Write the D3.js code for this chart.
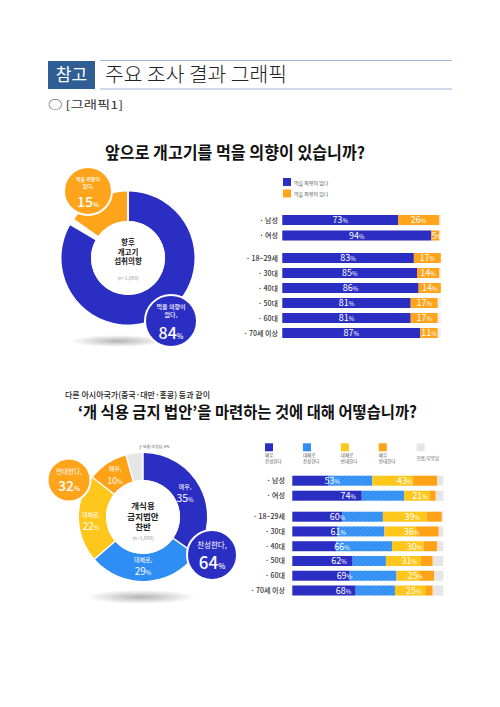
<!DOCTYPE html>
<html><head><meta charset="utf-8">
<script src="https://cdn.jsdelivr.net/npm/d3@7"></script>
<style>
body{margin:0;background:#fff}
svg{display:block}
text{font-family:"Noto Sans CJK KR","Noto Sans",sans-serif}
</style>
</head><body>
<svg id="c" width="500" height="707"></svg>
<script>
// ---------- DATA ----------
const headerTag = "참고";
const headerTitle = "주요 조사 결과 그래픽";
const sectionLabel = "○ [그래픽1]";

const genders = ["남성","여성"];
const ages = ["18~29세","30대","40대","50대","60대","70세 이상"];
const rowCats = genders.concat(ages);

// Chart 1
const c1Title = "앞으로 개고기를 먹을 의향이 있습니까?";
const c1Legend = ["먹을 의향이 없다","먹을 의향이 있다"];
const c1No  = [73,94,83,85,86,81,81,87];
const c1Yes = [26,5,17,14,14,17,17,11];
const c1DonutValues = [84,15];
const c1Center = ["향후","개고기","섭취의향"];
const sampleN = "(n=1,000)";

// Chart 2
const c2Sub = "다른 아시아국가(중국·대만·홍콩) 등과 같이";
const c2Title = "‘개 식용 금지 법안’을 마련하는 것에 대해 어떻습니까?";
const c2Legend = [["매우","찬성한다"],["대체로","찬성한다"],["대체로","반대한다"],["매우","반대한다"],["모름/무응답"]];
const c2VeryFor      = [24,46,33,30,29,40,38,42];
const c2SomeFor      = [29,28,27,31,37,22,31,26];
const c2SomeAgainst  = [27,17,29,21,21,23,15,20];
const c2VeryAgainst  = [16,4,10,15,9,8,10,5];
const c2DontKnow     = [4,5,1,3,4,7,6,7];
const c2ForTotal     = [53,74,60,61,66,62,69,68];
const c2AgainstTotal = [43,21,39,36,30,31,25,25];
const c2DonutValues  = [35,29,22,10,4];
const c2DonutLabels  = ["매우,","대체로,","대체로,","매우,",""];
const c2Center = ["개식용","금지법안","찬반"];

// ---------- STYLE ----------
const BLUE = "#2b2ec2", ORANGE = "#ffa41b";
const C2COL = ["#2b2ec2","#2f8ef3","#ffc71c","#ffa216","#e6e6e6"];

const svg = d3.select("#c");
const defs = svg.append("defs");
const grad = defs.append("radialGradient").attr("id","shadow");
grad.append("stop").attr("offset","0%").attr("stop-color","#777").attr("stop-opacity",0.55);
grad.append("stop").attr("offset","100%").attr("stop-color","#777").attr("stop-opacity",0);
const pat = defs.append("pattern").attr("id","hatch").attr("width",3).attr("height",3)
  .attr("patternUnits","userSpaceOnUse").attr("patternTransform","rotate(45)");
pat.append("rect").attr("width",3).attr("height",3).attr("fill",C2COL[1]);
pat.append("rect").attr("width",1).attr("height",3).attr("fill","#4a9cf5");

// ---------- HEADER ----------
svg.append("rect").attr("x",48).attr("y",61).attr("width",47).attr("height",28).attr("fill","#2f5e95");
svg.append("text").attr("x",71.5).attr("y",81).attr("text-anchor","middle")
  .attr("fill","#fff").attr("font-size",17).text(headerTag);
svg.append("line").attr("x1",100).attr("x2",452).attr("y1",60.5).attr("y2",60.5).attr("stroke","#9fb5d6").attr("stroke-width",1.2);
svg.append("line").attr("x1",100).attr("x2",452).attr("y1",89).attr("y2",89).attr("stroke","#9fb5d6").attr("stroke-width",1.2);
svg.append("text").attr("x",105).attr("y",82).attr("font-size",20).attr("font-weight",300)
  .attr("fill","#222").attr("textLength",182).attr("lengthAdjust","spacingAndGlyphs").text(headerTitle);
svg.append("text").attr("x",48).attr("y",109).attr("font-size",11).attr("fill","#333")
  .attr("textLength",75).attr("lengthAdjust","spacingAndGlyphs").text(sectionLabel);

// ---------- helpers ----------
function pctText(g, x, y, val, big, small, color, anchor, weight){
  const t = g.append("text").attr("x",x).attr("y",y).attr("text-anchor",anchor||"middle")
    .attr("fill",color||"#fff").attr("font-weight",weight||500).attr("font-size",big);
  t.append("tspan").text(val);
  t.append("tspan").attr("font-size",small).text("%");
  return t;
}
function lines(g, x, y, arr, size, lh, color, weight){
  arr.forEach((s,i)=> g.append("text").attr("x",x).attr("y",y+i*lh).attr("text-anchor","middle")
    .attr("font-size",size).attr("fill",color).attr("font-weight",weight||400).text(s));
}

// ---------- CHART 1 ----------
svg.append("text").attr("x",105).attr("y",159).attr("font-size",17).attr("font-weight",700)
  .attr("fill","#111").attr("textLength",260).attr("lengthAdjust","spacingAndGlyphs").text(c1Title);

// donut 1
const g1 = svg.append("g");
g1.append("ellipse").attr("cx",118).attr("cy",341).attr("rx",48).attr("ry",6).attr("fill","url(#shadow)");
const d1 = g1.append("g").attr("transform","translate(128,258)");
const arc1 = d3.arc().innerRadius(37).outerRadius(66.5);
const pie1 = d3.pie().sort(null).value(d=>d).padAngle(0.025);
const pie1Data = pie1([c1DonutValues[0], 100 - c1DonutValues[0] - c1DonutValues[1], c1DonutValues[1]]);
d1.selectAll("path").data(pie1Data).join("path")
  .attr("d",arc1).attr("fill",(d,i)=> i===0?BLUE:(i===2?ORANGE:"none"));
d1.append("circle").attr("r",37).attr("fill","#fff");
lines(d1,0,-13,c1Center,7.5,9.5,"#222",700);
d1.append("text").attr("y",22).attr("text-anchor","middle").attr("font-size",5).attr("fill","#999").text(sampleN);

// bubbles
const b1 = g1.append("g").attr("transform","translate(88,191)");
b1.append("circle").attr("r",24).attr("fill",ORANGE).attr("stroke","#fff").attr("stroke-width",2);
lines(b1,0,-10,["먹을 의향이","있다,"],5,6.5,"#fff",500);
pctText(b1,0,16,c1DonutValues[1],14,6.5,"#fff","middle",500);
const b2 = g1.append("g").attr("transform","translate(171,321)");
b2.append("circle").attr("r",26).attr("fill",BLUE).attr("stroke","#fff").attr("stroke-width",2);
lines(b2,0,-12,["먹을 의향이","없다,"],6,8,"#fff",500);
pctText(b2,0,18,c1DonutValues[0],16,7,"#fff","middle",500);

// legend 1
c1Legend.forEach((s,i)=>{
  svg.append("rect").attr("x",283).attr("y",178+i*11.5).attr("width",8).attr("height",8).attr("fill",i===0?BLUE:ORANGE);
  svg.append("text").attr("x",294).attr("y",184.5+i*11.5).attr("font-size",5).attr("fill","#555").text(s);
});

// bars 1
const x1 = d3.scaleLinear().domain([0,100]).range([282.3,440.8]);
const yG1 = d3.scalePoint().domain(genders).range([220,235.5]);
const yA1 = d3.scalePoint().domain(ages).range([258,333]);
const y1 = c => genders.includes(c) ? yG1(c) : yA1(c);
const bh = 10;
const bars1 = svg.append("g");
rowCats.forEach((c,i)=>{
  const yc = y1(c);
  bars1.append("rect").attr("x",x1(0)).attr("y",yc-bh/2).attr("width",x1(100)-x1(0)).attr("height",bh).attr("fill","#eeeeee");
  bars1.append("rect").attr("x",x1(0)).attr("y",yc-bh/2).attr("width",x1(c1No[i])-x1(0)).attr("height",bh).attr("fill",BLUE);
  bars1.append("rect").attr("x",x1(c1No[i])).attr("y",yc-bh/2).attr("width",x1(c1No[i]+c1Yes[i])-x1(c1No[i])).attr("height",bh).attr("fill",ORANGE);
  pctText(bars1,(x1(0)+x1(c1No[i]))/2,yc+3.3,c1No[i],9,6,"#fff","middle",400);
  if(c1Yes[i] < 8){
    pctText(bars1,x1(c1No[i])+0.5,yc+3.3,c1Yes[i],9,6,"#fff","start",400);
  } else {
    pctText(bars1,(x1(c1No[i])+x1(c1No[i]+c1Yes[i]))/2,yc+3.3,c1Yes[i],9,6,"#fff","middle",400);
  }
  bars1.append("text").attr("x",278).attr("y",yc+2.5).attr("text-anchor","end").attr("font-size",7)
    .attr("fill","#333").attr("font-weight",500).text("· "+c);
});

// ---------- CHART 2 ----------
svg.append("text").attr("x",65).attr("y",398).attr("font-size",8.5).attr("fill","#222").attr("font-weight",500)
  .attr("textLength",145).attr("lengthAdjust","spacingAndGlyphs").text(c2Sub);
svg.append("text").attr("x",78).attr("y",418).attr("font-size",16).attr("font-weight",700)
  .attr("fill","#111").attr("textLength",339).attr("lengthAdjust","spacingAndGlyphs").text(c2Title);

const g2 = svg.append("g");
g2.append("ellipse").attr("cx",141).attr("cy",597).attr("rx",55).attr("ry",7).attr("fill","url(#shadow)");
const d2 = g2.append("g").attr("transform","translate(143,517)");
const arc2 = d3.arc().innerRadius(37).outerRadius(64);
const pie2 = d3.pie().sort(null).value(d=>d).padAngle(0.02);
const pie2Data = pie2(c2DonutValues);
d2.selectAll("path").data(pie2Data).join("path").attr("d",arc2).attr("fill",(d,i)=>C2COL[i]);
d2.append("circle").attr("r",37).attr("fill","#fff");
lines(d2,0,-8,c2Center,8.5,10.5,"#222",700);
d2.append("text").attr("y",23).attr("text-anchor","middle").attr("font-size",5).attr("fill","#999").text(sampleN);

// segment labels
const segPos = [[42,-28],[0,45],[-52,0],[-28,-46]];
pie2Data.slice(0,4).forEach((d,i)=>{
  const [lx,ly] = segPos[i];
  const fs = i===0?10.5:(i===3?9:10);
  d2.append("text").attr("x",lx).attr("y",ly).attr("text-anchor","middle").attr("font-size",6).attr("fill","#fff").text(c2DonutLabels[i]);
  pctText(d2,lx,ly+13,c2DonutValues[i],fs,6,"#fff","middle",400);
});
// dont know label
d2.append("path").attr("d","M-3,-67 L-3,-71 L-1,-71").attr("fill","none").attr("stroke","#888").attr("stroke-width",0.6);
d2.append("text").attr("x",0).attr("y",-69.5).attr("font-size",3.8).attr("fill","#555").text("모름/무응답, "+c2DonutValues[4]+"%");

// bubbles
const b3 = g2.append("g").attr("transform","translate(69,480)");
b3.append("circle").attr("r",21.5).attr("fill",ORANGE).attr("stroke","#fff").attr("stroke-width",2);
b3.append("text").attr("y",-6).attr("text-anchor","middle").attr("font-size",6.5).attr("fill","#fff").text("반대한다,");
pctText(b3,0,11,d3.sum(c2DonutValues.slice(2,4)),14,6.5,"#fff","middle",500);
const b4 = g2.append("g").attr("transform","translate(212,555)");
b4.append("circle").attr("r",25).attr("fill",BLUE).attr("stroke","#fff").attr("stroke-width",2);
b4.append("text").attr("y",-7).attr("text-anchor","middle").attr("font-size",7.5).attr("fill","#fff").text("찬성한다,");
pctText(b4,0,14,d3.sum(c2DonutValues.slice(0,2)),17,7.5,"#fff","middle",500);

// legend 2
const legX = d3.scalePoint().domain(d3.range(5)).range([265,416.7]);
c2Legend.forEach((arr,i)=>{
  svg.append("rect").attr("x",legX(i)).attr("y",443.3).attr("width",8).attr("height",8).attr("fill",C2COL[i]);
  if(arr.length===2){
    arr.forEach((s,j)=> svg.append("text").attr("x",legX(i)).attr("y",457+j*5.5).attr("font-size",4.5).attr("fill","#555").text(s));
  } else {
    svg.append("text").attr("x",legX(i)).attr("y",459.5).attr("font-size",4.5).attr("fill","#555").text(arr[0]);
  }
});

// bars 2
const x2 = d3.scaleLinear().domain([0,100]).range([292.3,443.3]);
const yG2 = d3.scalePoint().domain(genders).range([480.7,495.7]);
const yA2 = d3.scalePoint().domain(ages).range([516.7,590.5]);
const y2 = c => genders.includes(c) ? yG2(c) : yA2(c);
const series2 = [c2VeryFor,c2SomeFor,c2SomeAgainst,c2VeryAgainst,c2DontKnow];
const fills2 = [C2COL[0],"url(#hatch)",C2COL[2],C2COL[3],C2COL[4]];
const bars2 = svg.append("g");
rowCats.forEach((c,i)=>{
  const yc = y2(c);
  let acc = 0;
  series2.forEach((s,k)=>{
    bars2.append("rect").attr("x",x2(acc)).attr("y",yc-bh/2).attr("width",x2(acc+s[i])-x2(acc)).attr("height",bh).attr("fill",fills2[k]);
    acc += s[i];
  });
  const f = c2VeryFor[i]+c2SomeFor[i];
  const a = c2SomeAgainst[i]+c2VeryAgainst[i];
  pctText(bars2,(x2(0)+x2(f))/2,yc+3.3,c2ForTotal[i],9,6,"#fff","middle",400);
  pctText(bars2,(x2(f)+x2(f+a))/2,yc+3.3,c2AgainstTotal[i],9,6,"#fff","middle",400);
  bars2.append("text").attr("x",285).attr("y",yc+2.5).attr("text-anchor","end").attr("font-size",7)
    .attr("fill","#333").attr("font-weight",500).text("· "+c);
});
</script>
</body></html>
